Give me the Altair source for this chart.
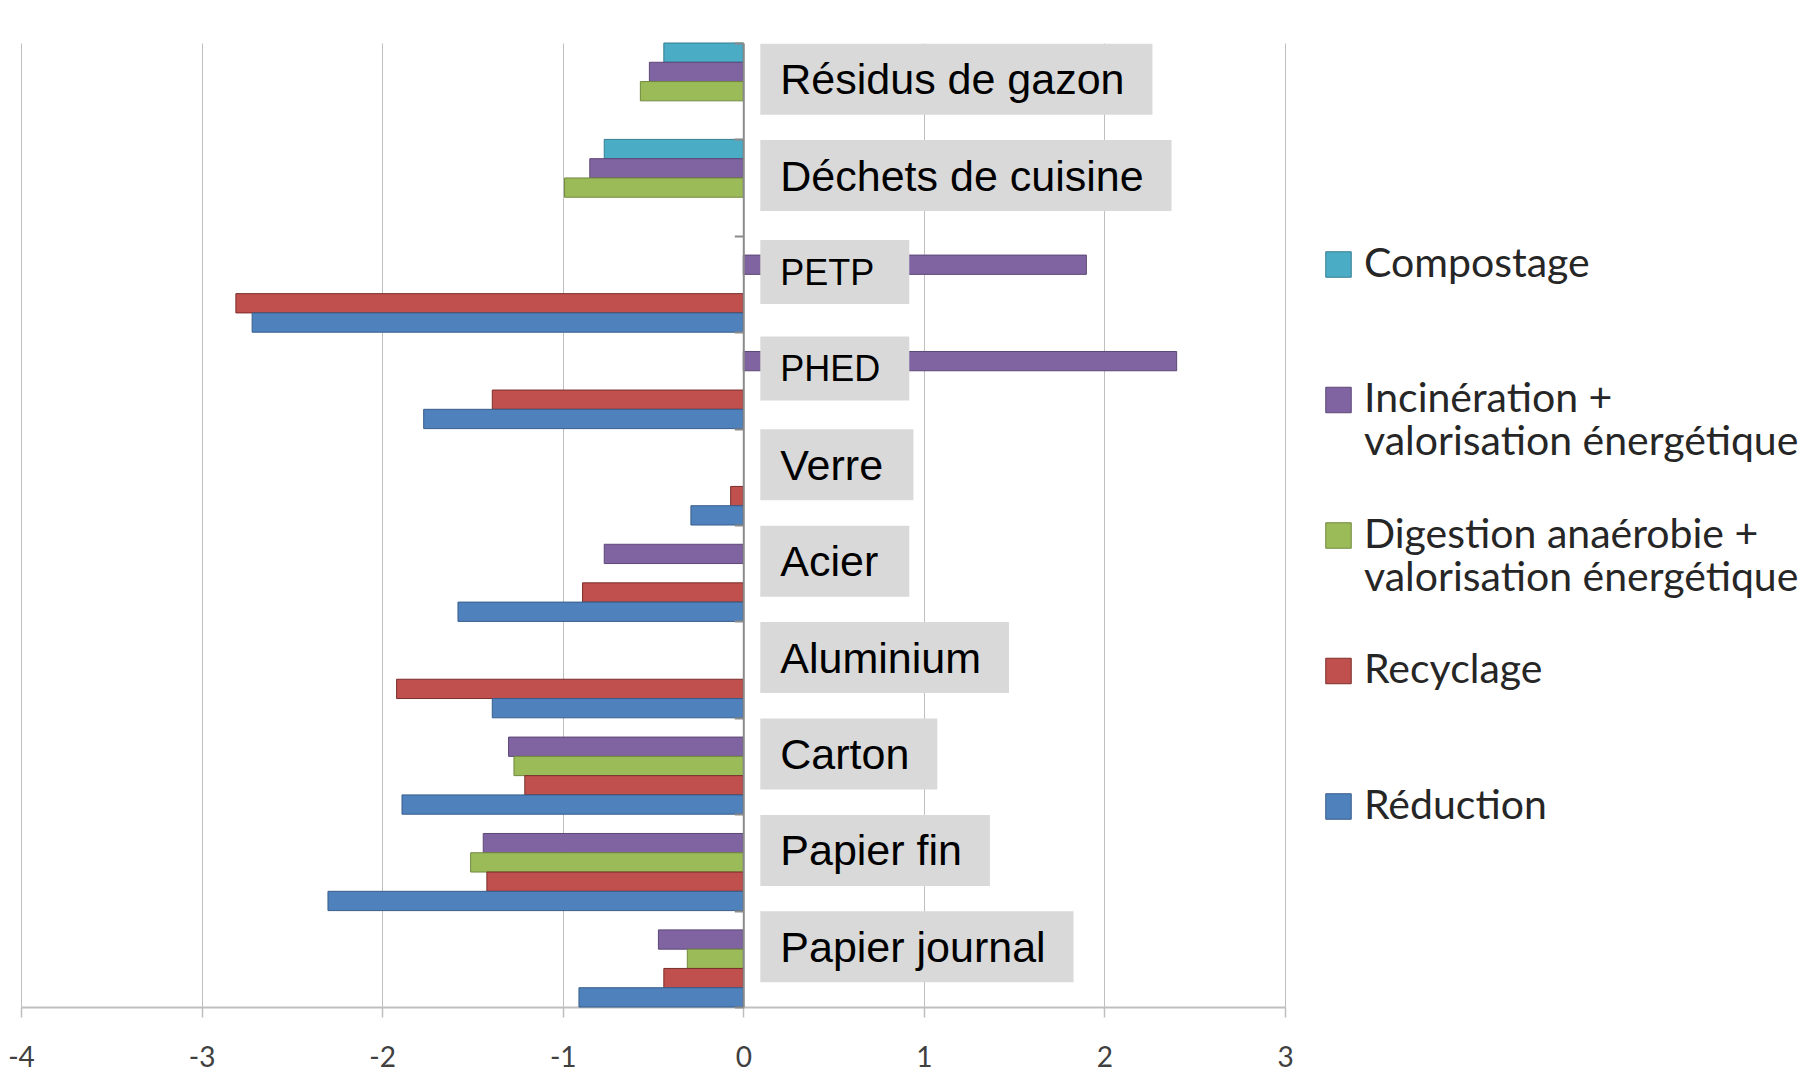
import altair as alt
import pandas as pd

categories = ["Résidus de gazon", "Déchets de cuisine", "PETP", "PHED", "Verre",
              "Acier", "Aluminium", "Carton", "Papier fin", "Papier journal"]
series = ["Compostage",
          "Incinération + valorisation énergétique",
          "Digestion anaérobie + valorisation énergétique",
          "Recyclage",
          "Réduction"]

compostage   = [-0.44, -0.77, None, None, None, None, None, None, None, None]
incineration = [-0.52, -0.85, 1.90, 2.40, None, -0.77, None, -1.30, -1.44, -0.47]
digestion    = [-0.57, -0.99, None, None, None, None, None, -1.27, -1.51, -0.31]
recyclage    = [None, None, -2.81, -1.39, -0.07, -0.89, -1.92, -1.21, -1.42, -0.44]
reduction    = [None, None, -2.72, -1.77, -0.29, -1.58, -1.39, -1.89, -2.30, -0.91]

x_ticks = [-4, -3, -2, -1, 0, 1, 2, 3]

fill_colors = ["#4BACC6", "#8064A2", "#9BBB59", "#C0504D", "#4F81BD"]
stroke_colors = ["#357D91", "#5C4776", "#71893F", "#7A2E2B", "#385D8A"]

rows = []
for s, vals in zip(series, [compostage, incineration, digestion, recyclage, reduction]):
    for c, v in zip(categories, vals):
        if v is not None:
            rows.append({"cat": c, "series": s, "value": v})
df = pd.DataFrame(rows)

W, H = 1264, 964
x_min, x_max = x_ticks[0], x_ticks[-1]
px_per_unit = W / (x_max - x_min)

# approximate Arial / Liberation Sans advance widths (em) to size the label boxes
ARIAL = {" ": .278, "A": .667, "C": .722, "D": .722, "E": .667, "H": .722, "P": .667,
         "R": .722, "T": .611, "V": .667, "a": .556, "c": .5, "d": .556, "e": .556,
         "é": .556, "f": .278, "g": .556, "h": .556, "i": .222, "j": .222, "l": .222,
         "m": .833, "n": .556, "o": .556, "p": .556, "r": .333, "s": .5, "t": .278,
         "u": .556, "z": .5}
small_labels = {"PETP", "PHED"}


def text_width(s, size):
    return sum(ARIAL.get(ch, 0.556) for ch in s) * size


label_rows = []
for c in categories:
    fs = 36 if c in small_labels else 43
    right_px = max(166, 37 + text_width(c, fs) + 28)
    label_rows.append({"cat": c, "zero": 0, "box_end": right_px / px_per_unit})
labels_df = pd.DataFrame(label_rows)

y_scale = alt.Scale(domain=categories, paddingInner=0, paddingOuter=0)
x_scale = alt.Scale(domain=[x_min, x_max], nice=False, zero=False)

legend_expr = ("indexof(datum.label, ' + ') > 0 ? "
               "[slice(datum.label, 0, indexof(datum.label, ' + ') + 2), "
               "slice(datum.label, indexof(datum.label, ' + ') + 3)] : [datum.label, ' ']")

legend = alt.Legend(
    title=None, orient="none", legendX=1297, legendY=201, direction="vertical",
    symbolType="square", symbolSize=650, symbolStrokeWidth=1, symbolOpacity=1,
    labelFont="Lato", labelFontSize=41, labelColor="#262626", labelLimit=700,
    labelOffset=5, labelBaseline="middle", rowPadding=50.5, padding=0,
    labelExpr=legend_expr,
)

bars = alt.Chart(df).mark_bar(strokeWidth=1, opacity=1).encode(
    x=alt.X("value:Q", scale=x_scale,
            axis=alt.Axis(values=x_ticks, grid=True, gridColor="#bfbfbf", gridWidth=1,
                          domainColor="#bfbfbf", domainWidth=2, tickColor="#bfbfbf",
                          tickSize=10, tickWidth=1.5, labelFont="Lato", labelFontSize=28,
                          labelColor="#404040", labelPadding=27, labelFlush=False,
                          labelExpr="'' + datum.value", title=None)),
    y=alt.Y("cat:N", scale=y_scale,
            axis=alt.Axis(offset=-(0 - x_min) * px_per_unit, labels=False, title=None,
                          grid=False, domainColor="#8a8a8a", domainWidth=2,
                          tickColor="#8a8a8a", tickSize=9, tickWidth=2, tickBand="extent",
                          zindex=1)),
    yOffset=alt.YOffset("series:N", scale=alt.Scale(domain=series, paddingInner=0,
                                                    paddingOuter=0)),
    fill=alt.Fill("series:N", scale=alt.Scale(domain=series, range=fill_colors),
                  legend=legend),
    stroke=alt.Stroke("series:N", scale=alt.Scale(domain=series, range=stroke_colors),
                      legend=legend),
)

boxes = alt.Chart(labels_df).mark_bar(color="#d9d9d9", xOffset=17, yOffset=-12).encode(
    x=alt.X("zero:Q", scale=x_scale),
    x2="box_end:Q",
    y=alt.Y("cat:N", scale=y_scale),
    size=alt.condition("datum.cat === 'PETP' || datum.cat === 'PHED'",
                       alt.value(64), alt.value(71)),
)

texts = alt.Chart(labels_df).mark_text(align="left", baseline="middle",
                                       font="Liberation Sans", color="black",
                                       xOffset=37, yOffset=-10).encode(
    x=alt.X("zero:Q", scale=x_scale),
    y=alt.Y("cat:N", scale=y_scale),
    text="cat:N",
    size=alt.condition("datum.cat === 'PETP' || datum.cat === 'PHED'",
                       alt.value(36), alt.value(43)),
)

chart = alt.layer(bars, boxes, texts).properties(
    width=W, height=H,
    padding={"left": 13, "top": 35, "right": 525, "bottom": 65},
    autosize=alt.AutoSizeParams(type="none"),
).configure_view(stroke=None)

chart.save("out.html", embed_options={"renderer": "svg", "actions": False})
